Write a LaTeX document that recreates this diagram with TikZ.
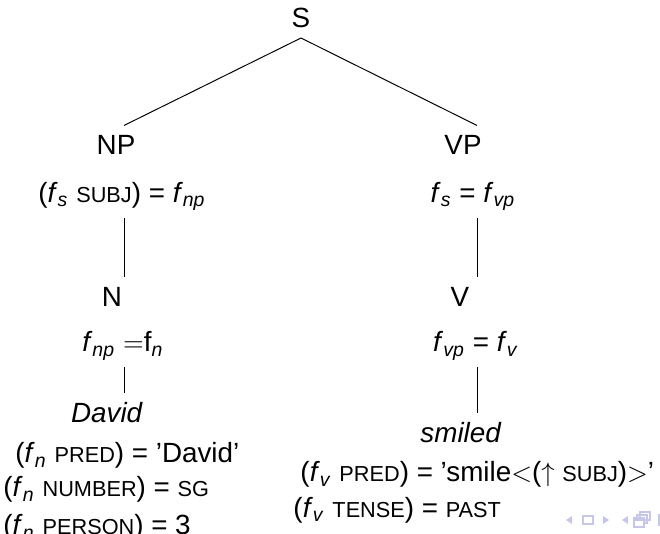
\documentclass[tikz,border=0pt]{standalone}
\usepackage{fontspec}
\setmainfont{Liberation Sans}
\definecolor{navc}{HTML}{C6C6EA}
\usetikzlibrary{calc}
\tikzset{
  lab/.style={anchor=base,inner xsep=0pt,inner ysep=3.6pt,text height=8.3pt,text depth=2.4pt},
  labw/.style={lab,anchor=base west},
  edge/.style={draw=black,line width=0.4pt},
  nav/.style={fill=navc,draw=none},
  navo/.style={draw=navc,line width=0.6pt},
}
\newcommand{\fsub}[1]{\textit{f}\textsubscript{\textit{#1}}}
\newcommand{\attr}[1]{{\fontsize{8.9}{10}\selectfont #1}}

\begin{document}
\begin{tikzpicture}[x=0.41pt,y=-0.41pt,every node/.style={font=\fontsize{11.4}{13}\selectfont}]
\useasboundingbox (0,0) rectangle (660,534);
\clip (0,0) rectangle (660,534);
% tree labels
\node[lab,inner ysep=1.5pt] (S) at (301,28) {S};
\node[lab] (NP) at (116,155) {NP};
\node[lab] (VP) at (463,155) {VP};
\node[lab] (npeq) at (122,203) {(\fsub{s} \attr{SUBJ}) = \fsub{np}};
\node[lab] (vpeq) at (473,203) {\fsub{s} = \fsub{vp}};
\node[lab] (N) at (112,307) {N};
\node[lab] (V) at (460,307) {V};
\node[lab] (neq) at (123,352) {\fsub{np} $=$f\textsubscript{\textit{n}}};
\node[lab] (veq) at (476,352) {\fsub{vp} = \fsub{v}};
\node[lab] (david) at (107,423) {\textit{David}};
\node[lab] (smiled) at (461,443) {\textit{smiled}};
% lexical equations
\node[labw] (npred) at (15,463) {(\fsub{n} \attr{PRED}) = 'David'};
\node[labw] (nnum) at (3,497) {(\fsub{n} \attr{NUMBER}) = \attr{SG}};
\node[labw] (nper) at (3,535) {(\fsub{n} \attr{PERSON}) = 3};
\node[labw] (vpred) at (300,482) {(\fsub{v} \attr{PRED}) = 'smile$<$($\uparrow$ \attr{SUBJ})$>$'};
\node[labw] (vtense) at (293,517) {(\fsub{v} \attr{TENSE}) = \attr{PAST}};
% branches
\coordinate (lc) at (124,0);
\coordinate (rc) at (477,0);
\draw[edge] (S.south) -- (NP.north -| lc);
\draw[edge] (S.south) -- (VP.north -| rc);
\draw[edge] (npeq.south -| lc) -- (N.north -| lc);
\draw[edge] (vpeq.south -| rc) -- (V.north -| rc);
\draw[edge] (neq.south -| lc) -- (david.north -| lc);
\draw[edge] (veq.south -| rc) -- (smiled.north -| rc);
% navigation symbols
\foreach \x in {566,622}{
  \fill[nav] (\x+6,516) -- (\x,520) -- (\x+6,524) -- cycle;}
\fill[nav] (603,516) -- (609,520) -- (603,524) -- cycle;
\draw[navo] (583,516) rectangle (593,524);
\draw[navo] (640,512) rectangle (650,520);
\draw[navo] (637,515) rectangle (647,523);
\draw[navo,fill=white] (634,518) rectangle (644,527);
\draw[navo] (634,520) -- (644,520);
\fill[nav] (658,514) rectangle (660,526);
\end{tikzpicture}
\end{document}
